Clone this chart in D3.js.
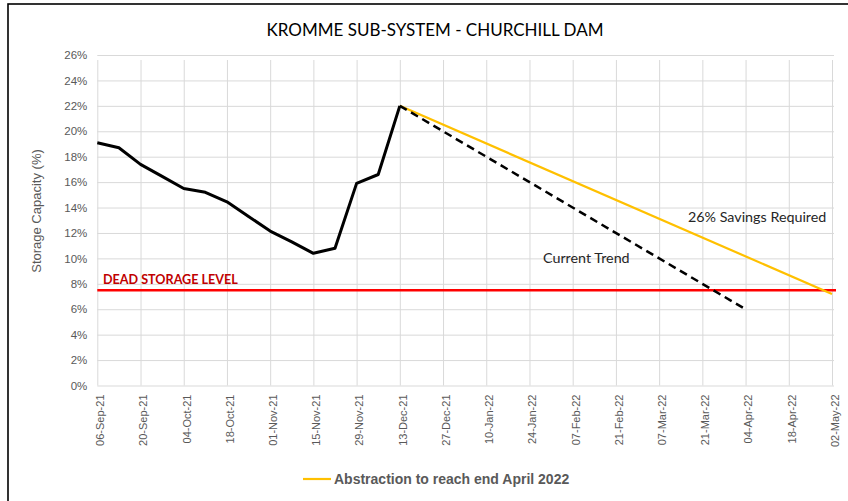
<!DOCTYPE html>
<html>
<head>
<meta charset="utf-8">
<script src="https://cdn.jsdelivr.net/npm/d3@7"></script>
<style>
  body { margin: 0; background: #fff; }
  svg { display: block; }
</style>
</head>
<body>
<div id="chart"></div>
<script>
'use strict';
// weekly readings, Churchill dam storage (%)
var dates = ['2021-09-06', '2021-09-13', '2021-09-20', '2021-09-27', '2021-10-04', '2021-10-11',
  '2021-10-18', '2021-10-25', '2021-11-01', '2021-11-08', '2021-11-15', '2021-11-22',
  '2021-11-29', '2021-12-06', '2021-12-13'];
var storage = [19.1, 18.7, 17.4, 16.45, 15.5, 15.2, 14.45, 13.3, 12.15, 11.3, 10.4, 10.8, 15.9, 16.6, 22.0];

var trendDates = ['2021-12-13', '2022-04-04'];
var trendValues = [22.0, 6.0];

var savingsDates = ['2021-12-13', '2022-05-02'];
var savingsValues = [22.0, 7.2];

var deadStorage = 7.5;

var xTicks = ['2021-09-06', '2021-09-20', '2021-10-04', '2021-10-18', '2021-11-01', '2021-11-15',
  '2021-11-29', '2021-12-13', '2021-12-27', '2022-01-10', '2022-01-24', '2022-02-07',
  '2022-02-21', '2022-03-07', '2022-03-21', '2022-04-04', '2022-04-18', '2022-05-02'];
var yTicks = [0, 2, 4, 6, 8, 10, 12, 14, 16, 18, 20, 22, 24, 26];

var width = 848, height = 501;
var parse = d3.utcParse('%Y-%m-%d');
var fmt = d3.utcFormat('%d-%b-%y');

var x = d3.scaleUtc()
    .domain([parse('2021-09-06'), parse('2022-05-02')])
    .range([97.3, 832]);
var y = d3.scaleLinear()
    .domain([0, 26])
    .range([385.5, 55]);

var svg = d3.select('#chart').append('svg')
    .attr('width', width)
    .attr('height', height);

// frame
svg.append('rect')
    .attr('x', 8).attr('y', 4)
    .attr('width', 1000).attr('height', 1000)
    .attr('fill', 'none')
    .attr('stroke', '#000')
    .attr('stroke-width', 1.6);

// gridlines
svg.append('g')
    .attr('transform', 'translate(0,' + y(0) + ')')
    .call(d3.axisBottom(x)
        .tickValues(xTicks.map(parse))
        .tickSize(-(y(0) - y(26)))
        .tickFormat(''))
    .call(function(g) {
      g.select('.domain').remove();
      g.selectAll('line').attr('stroke', '#d9d9d9').attr('y2', 5 - (y(0) - y(26)));
    });

svg.append('g')
    .attr('transform', 'translate(' + x.range()[0] + ',0)')
    .call(d3.axisLeft(y)
        .tickValues(yTicks)
        .tickSize(-(x.range()[1] - x.range()[0] + 2))
        .tickFormat(function(d) { return d + '%'; }))
    .call(function(g) {
      g.select('.domain').remove();
      g.selectAll('line').attr('stroke', '#d9d9d9');
      g.selectAll('text')
        .attr('x', -10)
        .attr('fill', '#595959')
        .style('font', '11.5px "Liberation Sans", Arial, sans-serif');
    });

// x tick labels
svg.append('g')
    .selectAll('text')
    .data(xTicks.map(parse))
    .join('text')
    .attr('transform', function(d) { return 'translate(' + (x(d) + 3) + ',' + (y(0) + 9) + ') rotate(-90)'; })
    .attr('text-anchor', 'end')
    .attr('dy', '0.35em')
    .attr('fill', '#595959')
    .style('font', '11px "Liberation Sans", Arial, sans-serif')
    .text(function(d) { return fmt(d); });

// dead storage
svg.append('line')
    .attr('x1', x.range()[0]).attr('x2', x.range()[1] + 4)
    .attr('y1', y(deadStorage)).attr('y2', y(deadStorage))
    .attr('stroke', '#ff0000')
    .attr('stroke-width', 2.5);

var line = d3.line()
    .x(function(d) { return x(d[0]); })
    .y(function(d) { return y(d[1]); });

function pairs(ds, vs) {
  return ds.map(function(d, i) { return [parse(d), vs[i]]; });
}

svg.append('path')
    .datum(pairs(savingsDates, savingsValues))
    .attr('d', line)
    .attr('fill', 'none')
    .attr('stroke', '#ffc000')
    .attr('stroke-width', 2.2);

svg.append('path')
    .datum(pairs(trendDates, trendValues))
    .attr('d', line)
    .attr('fill', 'none')
    .attr('stroke', '#000')
    .attr('stroke-width', 2.5)
    .attr('stroke-dasharray', '8,5');

svg.append('path')
    .datum(pairs(dates, storage))
    .attr('d', line)
    .attr('fill', 'none')
    .attr('stroke', '#000')
    .attr('stroke-width', 3)
    .attr('stroke-linejoin', 'round');

// labels
svg.append('text')
    .attr('x', 103).attr('y', 284)
    .attr('fill', '#c00000')
    .style('font', 'bold 12.6px Lato, sans-serif')
    .text('DEAD STORAGE LEVEL');

svg.append('text')
    .attr('x', 688).attr('y', 222)
    .attr('fill', '#262626')
    .style('font', '14.3px Lato, sans-serif')
    .text('26% Savings Required');

svg.append('text')
    .attr('x', 543).attr('y', 262.5)
    .attr('fill', '#262626')
    .style('font', '14.3px Lato, sans-serif')
    .text('Current Trend');

svg.append('text')
    .attr('x', 435).attr('y', 36)
    .attr('text-anchor', 'middle')
    .attr('fill', '#000')
    .style('font', '17px Lato, sans-serif')
    .text('KROMME SUB-SYSTEM - CHURCHILL DAM');

svg.append('text')
    .attr('transform', 'translate(41,211) rotate(-90)')
    .attr('text-anchor', 'middle')
    .attr('fill', '#595959')
    .style('font', '13px "Liberation Sans", Arial, sans-serif')
    .text('Storage Capacity (%)');

// legend
var legend = svg.append('g').attr('transform', 'translate(303,479)');
legend.append('line')
    .attr('x1', 0).attr('x2', 28)
    .attr('stroke', '#ffc000')
    .attr('stroke-width', 2.2);
legend.append('text')
    .attr('x', 31).attr('dy', '0.35em')
    .attr('fill', '#595959')
    .style('font', 'bold 14px "Liberation Sans", Arial, sans-serif')
    .text('Abstraction to reach end April 2022');
</script>
</body>
</html>
